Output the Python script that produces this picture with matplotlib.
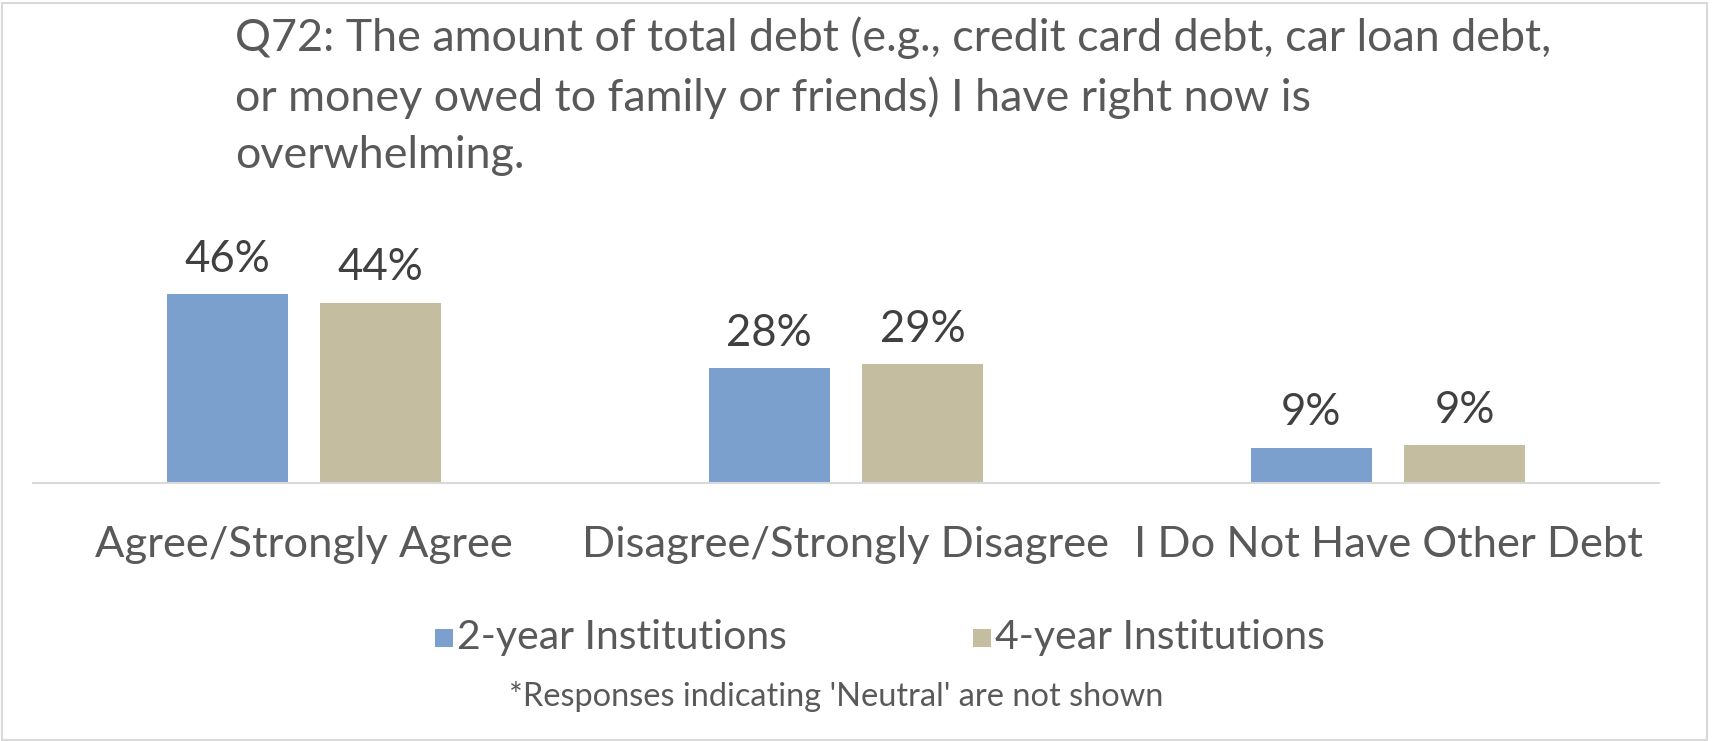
import numpy as np
import matplotlib.pyplot as plt
from matplotlib.patches import Rectangle

# Chart data
categories = ['Agree/Strongly Agree', 'Disagree/Strongly Disagree', 'I Do Not Have Other Debt']
series_names = ['2-year Institutions', '4-year Institutions']
two_year = [46, 28, 8.6]
four_year = [44, 29, 9.2]
value_labels = [['46%', '28%', '9%'], ['44%', '29%', '9%']]

title = ('Q72: The amount of total debt (e.g., credit card debt, car loan debt,\n'
         'or money owed to family or friends) I have right now is\n'
         'overwhelming.')
footnote = "*Responses indicating 'Neutral' are not shown"

W, H = 1714, 741
BLUE = '#7BA0CD'
TAN = '#C4BD9F'
TEXT = '#595959'
LABEL = '#404040'

plt.rcParams['font.family'] = ['Lato', 'DejaVu Sans']


def px(x, y):
    # pixel position (from top-left) to figure fraction
    return x / W, 1 - y / H


def main():
    fig = plt.figure(figsize=(W / 100, H / 100), dpi=100)

    # axes: left 33px, right 1659px, baseline at 483px
    left, right, bottom, top = 33, 1659, 483, 278
    ax = fig.add_axes([left / W, 1 - bottom / H, (right - left) / W, (bottom - top) / H])

    x = np.arange(len(categories))
    width = 0.223
    offset = 0.1417
    for vals, color, labels, sgn in [(two_year, BLUE, value_labels[0], -1),
                                     (four_year, TAN, value_labels[1], 1)]:
        bars = ax.bar(x + sgn * offset, vals, width, color=color)
        for b, lab in zip(bars, labels):
            ax.annotate(lab, (b.get_x() + b.get_width() / 2, b.get_height()),
                        xytext=(0, 35), textcoords='offset pixels',
                        ha='center', va='center', fontsize=31.5, color=LABEL)

    ax.set_xlim(-0.5, 2.5)
    ax.set_ylim(0, 50)
    for s in ['top', 'right', 'left']:
        ax.spines[s].set_visible(False)
    ax.spines['bottom'].set_color('#D9D9D9')
    ax.spines['bottom'].set_linewidth(1.5)
    ax.set_yticks([])
    ax.set_xticks(x)
    ax.set_xticklabels(categories, fontsize=31.3, color=TEXT)
    ax.tick_params(axis='x', length=0, pad=31)

    # title
    tx, ty = px(235, 96)
    fig.text(tx, ty, title, ha='left', va='center', fontsize=32.3, color=TEXT, linespacing=1.5)

    # legend drawn by hand
    for i, (name, color) in enumerate(zip(series_names, [BLUE, TAN])):
        sx = 435 + i * 538
        fx, fy = px(sx, 647)
        fig.patches.append(Rectangle((fx, fy), 18 / W, 18 / H, transform=fig.transFigure,
                                     facecolor=color, edgecolor='none'))
        lx, ly = px(sx + 22, 638)
        fig.text(lx, ly, name, ha='left', va='center', fontsize=29.5, color=TEXT)

    nx, ny = px(836, 697)
    fig.text(nx, ny, footnote, ha='center', va='center', fontsize=23.4, color=TEXT)

    # light border around the chart area
    fig.patches.append(Rectangle((1.5 / W, 1.5 / H), 1 - 9 / W, 1 - 4 / H, transform=fig.transFigure,
                                 facecolor='none', edgecolor='#D9D9D9', linewidth=1.5))

    fig.savefig('out.png', dpi=100)


if __name__ == "__main__":
    main()
